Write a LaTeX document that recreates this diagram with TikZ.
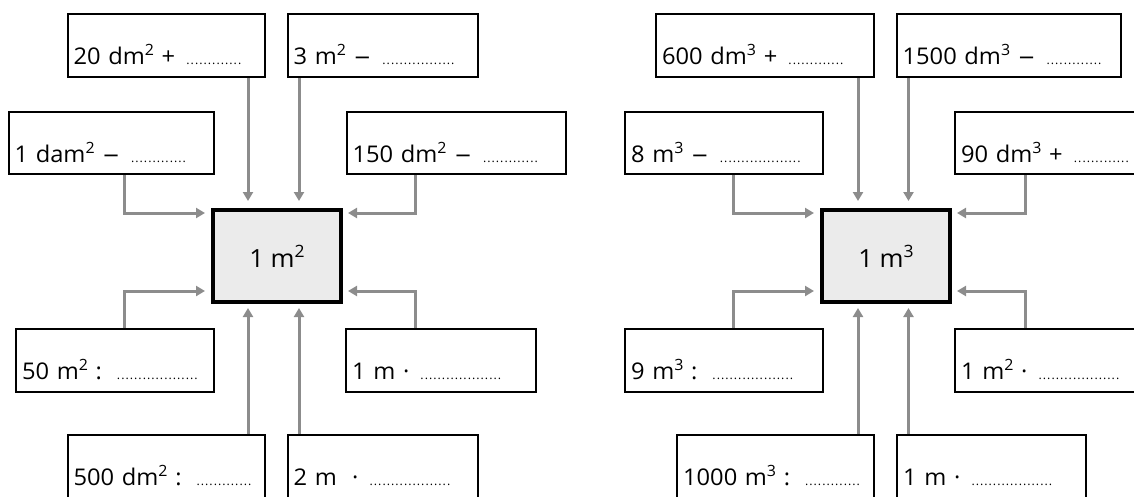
\documentclass[tikz,border=0pt]{standalone}
\usepackage{fontspec}
\setmainfont{Open Sans}[FakeStretch=1.03]
\newfontfamily\minusfont{DejaVu Sans}
\usetikzlibrary{arrows.meta,calc}
\definecolor{arrgray}{RGB}{140,140,140}
\definecolor{cfill}{RGB}{235,235,235}
\newcount\dotcnt
\newcommand\supnum[1]{\raisebox{8.5pt}{\fontsize{15.5}{15}\selectfont #1}}
\newcommand\bigsupnum[1]{\raisebox{10pt}{\fontsize{17}{17}\selectfont #1}}
\newcommand\dotsrow[1]{\hspace{3pt}\hbox{\fontsize{12}{12}\selectfont\dotcnt=0
  \loop\hbox to 4.3pt{\hss.\hss}\advance\dotcnt by 1 \ifnum\dotcnt<#1\repeat}}
\newcommand\minussign{{\minusfont\fontsize{21}{24}\selectfont\char"2212}}
\newcommand\boxfont{\fontsize{23}{26}\selectfont}
\newcommand\centerfont{\fontsize{25}{28}\selectfont}
\begin{document}
\begin{tikzpicture}[x=1pt,y=-1pt,
  ebox/.style={draw=black, line width=2.2pt, inner xsep=6pt, inner ysep=0pt,
    text height=50pt, text depth=13pt, anchor=north west, align=left,
    text width=#1, font=\boxfont},
  cbox/.style={draw=black, fill=cfill, line width=4pt, minimum width=128pt,
    minimum height=92pt, inner sep=0pt, anchor=north west,
    font=\centerfont},
  arr/.style={draw=arrgray, line width=3pt, -{Triangle[length=9pt,width=10pt]}}]
\useasboundingbox (0,0) rectangle (1134,496);
\clip (0,0) rectangle (1134,496);

% ---------- left diagram ----------
\node[cbox] (C) at (211,208) {1 m\bigsupnum{2}};
\node[ebox=185.5pt] (L1) at (66.5,13) {20 dm\supnum{2} + \dotsrow{13}};
\node[ebox=178pt] (L2) at (286.5,13) {3 m\supnum{2} \minussign{} \dotsrow{17}};
\node[ebox=193.5pt, text depth=12pt] (L3) at (7.5,111) {1 dam\supnum{2} \minussign{} \dotsrow{13}};
\node[ebox=207pt, text depth=12pt] (L4) at (345.5,111) {150 dm\supnum{2} \minussign{} \dotsrow{13}};
\node[ebox=186pt] (L5) at (15,328) {50 m\supnum{2} : \dotsrow{19}};
\node[ebox=178pt] (L6) at (345,328) {1 m · \dotsrow{19}};
\node[ebox=185.5pt, text depth=20pt] (L7) at (66.5,434) {500 dm\supnum{2} : \dotsrow{13}};
\node[ebox=178pt, text depth=20pt] (L8) at (286.5,434) {2 m\ \ · \dotsrow{19}};

\coordinate (xa) at (248,0);
\coordinate (xb) at (299,0);
\coordinate (xl) at (124,0);
\coordinate (xr) at (415.5,0);
\coordinate (yt) at (0,213);
\coordinate (yb) at (0,291);

\draw[arr] (L1.south -| xa) -- ($(C.north -| xa)+(0,-7)$);
\draw[arr] (L2.south -| xb) -- ($(C.north -| xb)+(0,-7)$);
\draw[arr] (L3.south -| xl) |- ($(C.west |- yt)+(-6,0)$);
\draw[arr] (L4.south -| xr) |- ($(C.east |- yt)+(5,0)$);
\draw[arr] (L5.north -| xl) |- ($(C.west |- yb)+(-6,0)$);
\draw[arr] (L6.north -| xr) |- ($(C.east |- yb)+(5,0)$);
\draw[arr] (L7.north -| xa) -- ($(C.south -| xa)+(0,4)$);
\draw[arr] (L8.north -| xb) -- ($(C.south -| xb)+(0,4)$);

% ---------- right diagram ----------
\node[cbox] (D) at (820,208) {1 m\bigsupnum{3}};
\node[ebox=206pt] (R1) at (655,13) {600 dm\supnum{3} + \dotsrow{13}};
\node[ebox=212.5pt] (R2) at (895.5,13) {1500 dm\supnum{3} \minussign{} \dotsrow{13}};
\node[ebox=185.5pt, text depth=12pt] (R3) at (624,111) {8 m\supnum{3} \minussign{} \dotsrow{19}};
\node[ebox=208pt, text depth=12pt] (R4) at (954,111) {90 dm\supnum{3} + \dotsrow{13}};
\node[ebox=185.5pt] (R5) at (624,328) {9 m\supnum{3} : \dotsrow{19}};
\node[ebox=208pt] (R6) at (954,328) {1 m\supnum{2} · \dotsrow{19}};
\node[ebox=185pt, text depth=20pt] (R7) at (676,434) {1000 m\supnum{3} : \dotsrow{13}};
\node[ebox=177pt, text depth=20pt] (R8) at (896,434) {1 m · \dotsrow{19}};

\coordinate (xc) at (858,0);
\coordinate (xd) at (908.5,0);
\coordinate (xm) at (733.5,0);
\coordinate (xn) at (1025,0);

\draw[arr] (R1.south -| xc) -- ($(D.north -| xc)+(0,-7)$);
\draw[arr] (R2.south -| xd) -- ($(D.north -| xd)+(0,-7)$);
\draw[arr] (R3.south -| xm) |- ($(D.west |- yt)+(-6,0)$);
\draw[arr] (R4.south -| xn) |- ($(D.east |- yt)+(5,0)$);
\draw[arr] (R5.north -| xm) |- ($(D.west |- yb)+(-6,0)$);
\draw[arr] (R6.north -| xn) |- ($(D.east |- yb)+(5,0)$);
\draw[arr] (R7.north -| xc) -- ($(D.south -| xc)+(0,4)$);
\draw[arr] (R8.north -| xd) -- ($(D.south -| xd)+(0,4)$);
\end{tikzpicture}
\end{document}
